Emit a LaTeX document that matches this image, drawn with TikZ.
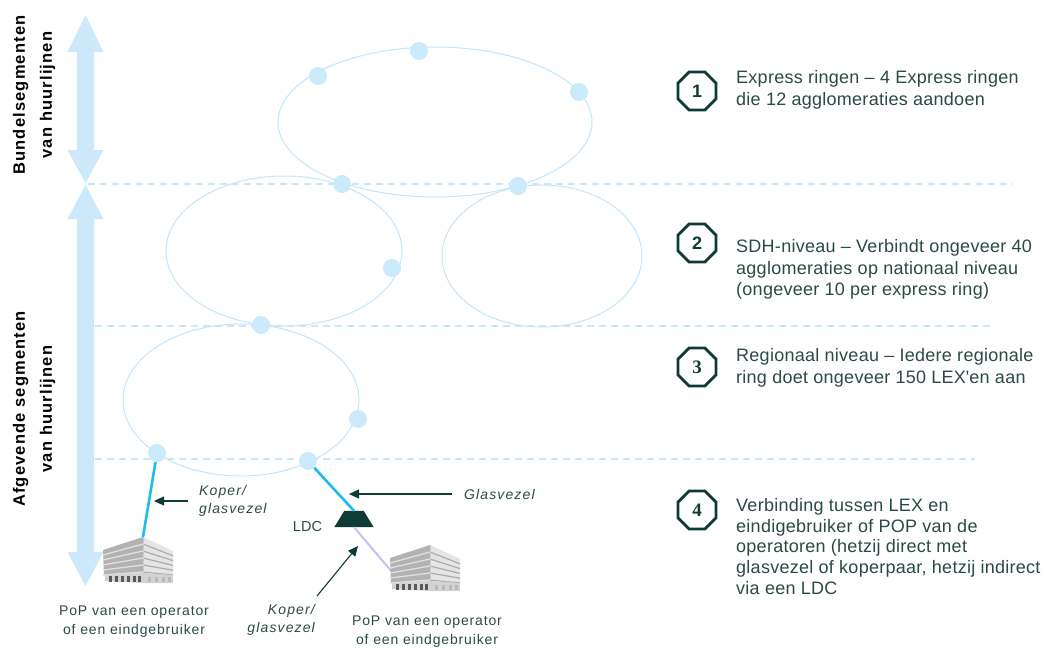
\documentclass[tikz,border=0pt]{standalone}
\usepackage{fontspec}
\setmainfont{Liberation Sans}
\newfontfamily\serifnum{Liberation Serif}
\usetikzlibrary{shapes.geometric,arrows.meta}
\definecolor{ringblue}{HTML}{C4E5FA}
\definecolor{dotblue}{HTML}{CBEAFC}
\definecolor{arrowblue}{HTML}{CCE9FB}
\definecolor{dashblue}{HTML}{C9E7F9}
\definecolor{cable}{HTML}{1CBDEE}
\definecolor{lav}{HTML}{C3C3F2}
\definecolor{darkteal}{HTML}{0E3B36}
\definecolor{txt}{HTML}{2A4A47}
\tikzset{
  ring/.style={draw=ringblue, line width=1pt},
  dashline/.style={draw=dashblue, line width=1.2pt, dash pattern=on 7pt off 5pt},
  dot/.style={circle, fill=dotblue, minimum size=18pt, inner sep=0pt},
  cablestyle/.style={draw=cable, line width=2.6pt},
  lavstyle/.style={draw=lav, line width=2pt},
  bigarrow/.style={fill=arrowblue},
  sidelabel/.style={rotate=90, align=center, text=black,
    font=\bfseries\fontsize{16.5}{27}\selectfont\addfontfeature{LetterSpace=7}},
  octa/.style={regular polygon, regular polygon sides=8, minimum size=41pt,
    draw=darkteal, line width=2.8pt, fill=white, inner sep=0pt, text=darkteal,
    font=\bfseries\fontsize{18}{18}\selectfont},
  desc/.style={anchor=base west, align=left, inner sep=0pt, text=txt,
    font=\fontsize{18}{21.5}\selectfont\addfontfeature{LetterSpace=1.5}},
  poplabel/.style={align=center, inner sep=0pt, text=txt,
    font=\fontsize{14}{19}\selectfont\addfontfeature{LetterSpace=6}},
  itlabel/.style={inner sep=0pt, text=txt,
    font=\itshape\fontsize{14}{18}\selectfont\addfontfeature{LetterSpace=8}},
  pointer/.style={draw=darkteal, line width=1.1pt, -{Triangle[length=10pt,width=9pt]}},
  ldcbox/.style={minimum width=39pt, minimum height=16pt, inner sep=0pt},
  building/.pic={
    \fill[gray!60] (0,13) -- (40,0) -- (40,36) -- (1,38) -- cycle;
    \fill[gray!20] (40,0) -- (70,14) -- (70,38) -- (40,36) -- cycle;
    \foreach \i in {1,...,5}{
      \pgfmathsetmacro\lya{13+5*\i}
      \pgfmathsetmacro\lyb{7*\i}
      \pgfmathsetmacro\lyc{14+4.8*\i}
      \draw[white!75!gray, line width=1.3pt] (0,\lya) -- (40,\lyb);
      \draw[gray!65, line width=1.2pt] (40,\lyb) -- (70,\lyc);
    }
    \draw[gray!40, line width=0.8pt] (40,0) -- (40,36);
    \fill[gray!35] (2,38) -- (40,36) -- (70,38) -- (70,46) -- (40,46) -- (2,44) -- cycle;
    \foreach \x in {6,12,18,24,30,35}{
      \fill[gray!70!black] (\x,39) rectangle (\x+3,45);
    }
    \foreach \x in {45,52,59,65}{
      \fill[gray!55] (\x,40) rectangle (\x+3,45);
    }
    \coordinate (-top) at (40,0);
    \coordinate (-left) at (1,27);
  }
}
\begin{document}
\begin{tikzpicture}[x=1pt,y=-1pt]
\useasboundingbox (0,0) rectangle (1045,648);
\fill[white] (0,0) rectangle (1045,648);

% dashed level lines
\draw[dashline] (88,184) -- (1013,184);
\draw[dashline] (95,326) -- (995,326);
\draw[dashline] (95,459) -- (975,459);

% big double arrows on the left
\fill[bigarrow] (85.5,15) -- (103.5,52) -- (94,52) -- (94,150) -- (103.5,150)
  -- (85.5,183) -- (67.5,150) -- (77,150) -- (77,52) -- (67.5,52) -- cycle;
\fill[bigarrow] (85.5,185) -- (103.5,219) -- (94,219) -- (94,552) -- (103.5,552)
  -- (85.5,586) -- (67.5,552) -- (77,552) -- (77,219) -- (67.5,219) -- cycle;

\node[sidelabel] (seg1) at (34,95) {Bundelsegmenten\\van huurlijnen};
\node[sidelabel] (seg2) at (34,409) {Afgevende segmenten\\van huurlijnen};

% rings
\draw[ring] (435,122) ellipse [x radius=157, y radius=75];
\draw[ring] (284,251) ellipse [x radius=118, y radius=75];
\draw[ring] (542,256) ellipse [x radius=100, y radius=71];
\draw[ring] (241,400) ellipse [x radius=118, y radius=76];

% ring nodes
\node[dot] (d1) at (419,51) {};
\node[dot] (d2) at (318,76) {};
\node[dot] (d3) at (579,92) {};
\node[dot] (d4) at (342,184) {};
\node[dot] (d5) at (518,186) {};
\node[dot] (d6) at (392,268) {};
\node[dot] (d7) at (261,325) {};
\node[dot] (d8) at (358,419) {};
\node[dot] (d9) at (157,453) {};
\node[dot] (d10) at (308,461) {};

% LDC and buildings
\node[ldcbox] (ldc) at (354,519) {};
\fill[darkteal] (ldc.south west) -- (ldc.south east) -- ([xshift=-10pt]ldc.north east)
  -- ([xshift=10pt]ldc.north west) -- cycle;
\coordinate (lavend) at (392,572);
\draw[lavstyle] (ldc.south) -- (lavend);
\pic (b1) at (103,537) {building};
\pic (b2) at (390,545) {building};

% cables
\draw[cablestyle] (d9) -- (b1-top);
\draw[cablestyle] (d10) -- (ldc.north);

% labels
\node[font=\fontsize{14.5}{14.5}\selectfont, text=txt] (ldclab) at (307.5,527) {LDC};
\node[itlabel, align=left, anchor=west] (kg1) at (199,501) {Koper/\\glasvezel};
\node[itlabel, anchor=west] (gv) at (464,494) {Glasvezel};
\node[itlabel, align=right, anchor=east] (kg2) at (315,620) {Koper/\\glasvezel};
\node[poplabel] (p1) at (134,622) {PoP van een operator\\of een eindgebruiker};
\node[poplabel] (p2) at (427,632) {PoP van een operator\\of een eindgebruiker};

% pointer arrows
\coordinate (a1s) at (188,501); \coordinate (a1e) at (154,501);
\coordinate (a2s) at (452,494); \coordinate (a2e) at (349,494);
\coordinate (a3s) at (317,596); \coordinate (a3e) at (358,546);
\draw[pointer] (a1s) -- (a1e);
\draw[pointer] (a2s) -- (a2e);
\draw[pointer] (a3s) -- (a3e);

% legend
\node[octa] (n1) at (697,91) {1};
\node[octa] (n2) at (697,243) {2};
\node[octa, font=\serifnum\bfseries\fontsize{19}{19}\selectfont] (n3) at (697,367) {3};
\node[octa, font=\serifnum\bfseries\fontsize{19}{19}\selectfont] (n4) at (697,510) {4};

% (base anchor = baseline of the last line)
\node[desc] (t1) at (736,105) {Express ringen – 4 Express ringen\\die 12 agglomeraties aandoen};
\node[desc] (t2) at (736,295.5) {SDH-niveau – Verbindt ongeveer 40\\agglomeraties op nationaal niveau\\(ongeveer 10 per express ring)};
\node[desc] (t3) at (736,383) {Regionaal niveau – Iedere regionale\\ring doet ongeveer 150 LEX\textquotesingle en aan};
\node[desc, font=\fontsize{18}{20.8}\selectfont\addfontfeature{LetterSpace=1.5}] (t4) at (736,594.5) {Verbinding tussen LEX en\\eindigebruiker of POP van de\\operatoren (hetzij direct met\\glasvezel of koperpaar, hetzij indirect\\via een LDC};
\end{tikzpicture}
\end{document}
